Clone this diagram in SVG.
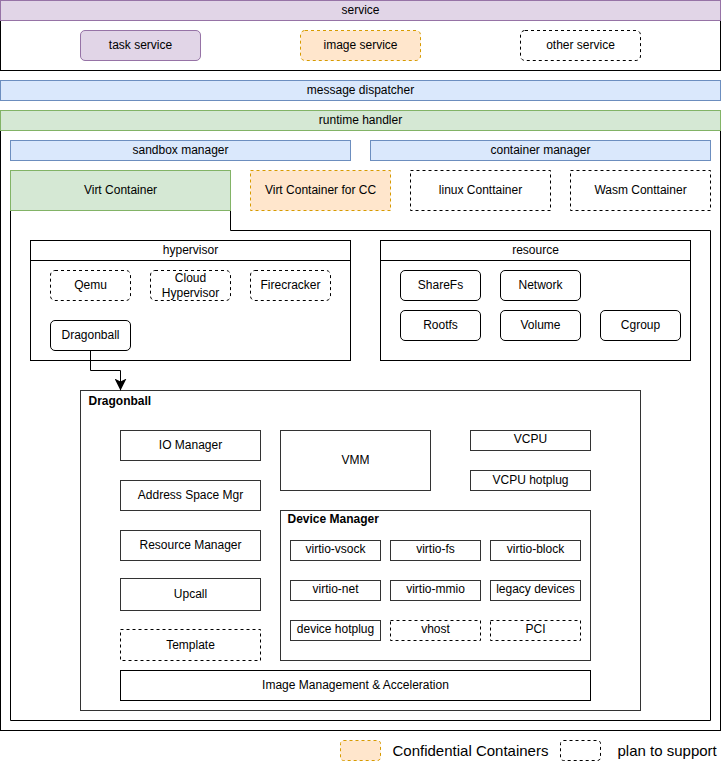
<svg xmlns="http://www.w3.org/2000/svg" width="721" height="761" viewBox="0 0 721 761">
<style>
text{font-family:"Liberation Sans",Arial,Helvetica,sans-serif;font-size:12px;fill:#000;text-anchor:middle}
.b{fill:#fff;stroke:#000;stroke-width:1}
.g{fill:#fff;stroke:#333;stroke-width:1}
.d{fill:#fff;stroke:#000;stroke-width:1;stroke-dasharray:3 3}
.pur{fill:#e1d5e7;stroke:#9673a6}
.blu{fill:#dae8fc;stroke:#6c8ebf}
.grn{fill:#d5e8d4;stroke:#82b366}
.org{fill:#ffe6cc;stroke:#d79b00;stroke-dasharray:3 3}
.bold{font-weight:bold;text-anchor:start}
.leg{font-size:15px;text-anchor:start}
.fr{fill:none;stroke:#000}
</style>
<defs>
<marker id="arr" markerUnits="userSpaceOnUse" viewBox="0 0 12 12" markerWidth="12" markerHeight="12" refX="12" refY="6" orient="auto">
<path d="M0,0 L12,6 L0,12 L3,6 z" fill="#000"/>
</marker>
</defs>
<g transform="translate(0.5,0.5)">
<g id="service">
<rect class="b" x="0" y="20" width="720" height="50"/>
<rect class="pur" x="0" y="0" width="720" height="20"/>
<text x="360" y="13">service</text>
</g>
<g id="task-service"><rect class="pur" x="80" y="30" width="120" height="30" rx="4.5"/><text x="140" y="48">task service</text></g>
<g id="image-service"><rect class="org" x="300" y="30" width="120" height="30" rx="4.5"/><text x="360" y="48">image service</text></g>
<g id="other-service"><rect class="d" x="520" y="30" width="120" height="30" rx="4.5"/><text x="580" y="48">other service</text></g>
<g id="message-dispatcher"><rect class="blu" x="0" y="80" width="720" height="20"/><text x="360" y="93">message dispatcher</text></g>
<g id="runtime-handler">
<rect class="b" x="0" y="130" width="720" height="600"/>
<rect class="grn" x="0" y="110" width="720" height="20"/>
<text x="360" y="123">runtime handler</text>
</g>
<g id="sandbox-manager"><rect class="blu" x="10" y="140" width="340" height="20"/><text x="180" y="153">sandbox manager</text></g>
<g id="container-manager"><rect class="blu" x="370" y="140" width="340" height="20"/><text x="540" y="153">container manager</text></g>
<g id="virt-container">
<path class="fr" d="M230,210 V230 H710 V720 H10 V210"/>
<rect class="grn" x="10" y="170" width="220" height="40"/>
<text x="120" y="193">Virt Container</text>
</g>
<g id="virt-container-cc"><rect class="org" x="250" y="170" width="140" height="40"/><text x="320" y="193">Virt Container for CC</text></g>
<g id="linux-container"><rect class="d" x="410" y="170" width="140" height="40"/><text x="480" y="193">linux Conttainer</text></g>
<g id="wasm-container"><rect class="d" x="570" y="170" width="140" height="40"/><text x="640" y="193">Wasm Conttainer</text></g>
<g id="hypervisor">
<rect class="b" x="30" y="240" width="320" height="120"/>
<line class="fr" x1="30" y1="260" x2="350" y2="260"/>
<text x="190" y="253">hypervisor</text>
</g>
<g id="qemu"><rect class="d" x="50" y="270" width="80" height="30" rx="4.5"/><text x="90" y="288">Qemu</text></g>
<g id="cloud-hypervisor"><rect class="d" x="150" y="270" width="80" height="30" rx="4.5"/><text x="190" y="281">Cloud</text><text x="190" y="296">Hypervisor</text></g>
<g id="firecracker"><rect class="d" x="250" y="270" width="80" height="30" rx="4.5"/><text x="290" y="288">Firecracker</text></g>
<g id="dragonball-hv"><rect class="b" x="50" y="320" width="80" height="30" rx="4.5"/><text x="90" y="338">Dragonball</text></g>
<g id="resource">
<rect class="b" x="380" y="240" width="310" height="120"/>
<line class="fr" x1="380" y1="260" x2="690" y2="260"/>
<text x="535" y="253">resource</text>
</g>
<g id="sharefs"><rect class="b" x="400" y="270" width="80" height="30" rx="4.5"/><text x="440" y="288">ShareFs</text></g>
<g id="network"><rect class="b" x="500" y="270" width="80" height="30" rx="4.5"/><text x="540" y="288">Network</text></g>
<g id="rootfs"><rect class="b" x="400" y="310" width="80" height="30" rx="4.5"/><text x="440" y="328">Rootfs</text></g>
<g id="volume"><rect class="b" x="500" y="310" width="80" height="30" rx="4.5"/><text x="540" y="328">Volume</text></g>
<g id="cgroup"><rect class="b" x="600" y="310" width="80" height="30" rx="4.5"/><text x="640" y="328">Cgroup</text></g>
<g id="dragonball">
<rect class="g" x="80" y="390" width="560" height="320"/>
<text class="bold" x="88" y="404">Dragonball</text>
</g>
<g id="io-manager"><rect class="g" x="120" y="430" width="140" height="30"/><text x="190" y="448">IO Manager</text></g>
<g id="address-space-mgr"><rect class="g" x="120" y="480" width="140" height="30"/><text x="190" y="498">Address Space Mgr</text></g>
<g id="resource-manager"><rect class="g" x="120" y="530" width="140" height="30"/><text x="190" y="548">Resource Manager</text></g>
<g id="upcall"><rect class="g" x="120" y="578" width="140" height="32"/><text x="190" y="597">Upcall</text></g>
<g id="template"><rect class="d" x="120" y="629" width="140" height="31" stroke="#333"/><text x="190" y="648">Template</text></g>
<g id="vmm"><rect class="g" x="280" y="430" width="150" height="60"/><text x="355" y="463">VMM</text></g>
<g id="vcpu"><rect class="g" x="470" y="430" width="120" height="20"/><text x="530" y="442">VCPU</text></g>
<g id="vcpu-hotplug"><rect class="g" x="470" y="470" width="120" height="20"/><text x="530" y="483">VCPU hotplug</text></g>
<g id="device-manager">
<rect class="g" x="280" y="510" width="310" height="150"/>
<text class="bold" x="287" y="522">Device Manager</text>
</g>
<g id="virtio-vsock"><rect class="g" x="290" y="540" width="90" height="20"/><text x="335" y="552">virtio-vsock</text></g>
<g id="virtio-fs"><rect class="g" x="390" y="540" width="90" height="20"/><text x="435" y="552">virtio-fs</text></g>
<g id="virtio-block"><rect class="g" x="490" y="540" width="90" height="20"/><text x="535" y="552">virtio-block</text></g>
<g id="virtio-net"><rect class="g" x="290" y="580" width="90" height="20"/><text x="335" y="592">virtio-net</text></g>
<g id="virtio-mmio"><rect class="g" x="390" y="580" width="90" height="20"/><text x="435" y="592">virtio-mmio</text></g>
<g id="legacy-devices"><rect class="g" x="490" y="580" width="90" height="20"/><text x="535" y="592">legacy devices</text></g>
<g id="device-hotplug"><rect class="g" x="290" y="620" width="90" height="20"/><text x="335" y="632">device hotplug</text></g>
<g id="vhost"><rect class="d" x="390" y="620" width="90" height="20" stroke="#333"/><text x="435" y="632">vhost</text></g>
<g id="pci"><rect class="d" x="490" y="620" width="90" height="20" stroke="#333"/><text x="535" y="632">PCI</text></g>
<g id="image-management"><rect class="b" x="120" y="670" width="470" height="30"/><text x="355" y="688">Image Management &amp; Acceleration</text></g>
<g id="connectors">
<path d="M90,350 V370 H120 V390" fill="none" stroke="#000" marker-end="url(#arr)"/>
</g>
<g id="legend-cc"><rect class="org" x="340" y="740" width="40" height="20" rx="3"/><text class="leg" x="392" y="755">Confidential Containers</text></g>
<g id="legend-plan"><rect class="d" x="560" y="740" width="40" height="20" rx="3"/><text class="leg" x="617" y="755">plan to support</text></g>
</g>
</svg>
